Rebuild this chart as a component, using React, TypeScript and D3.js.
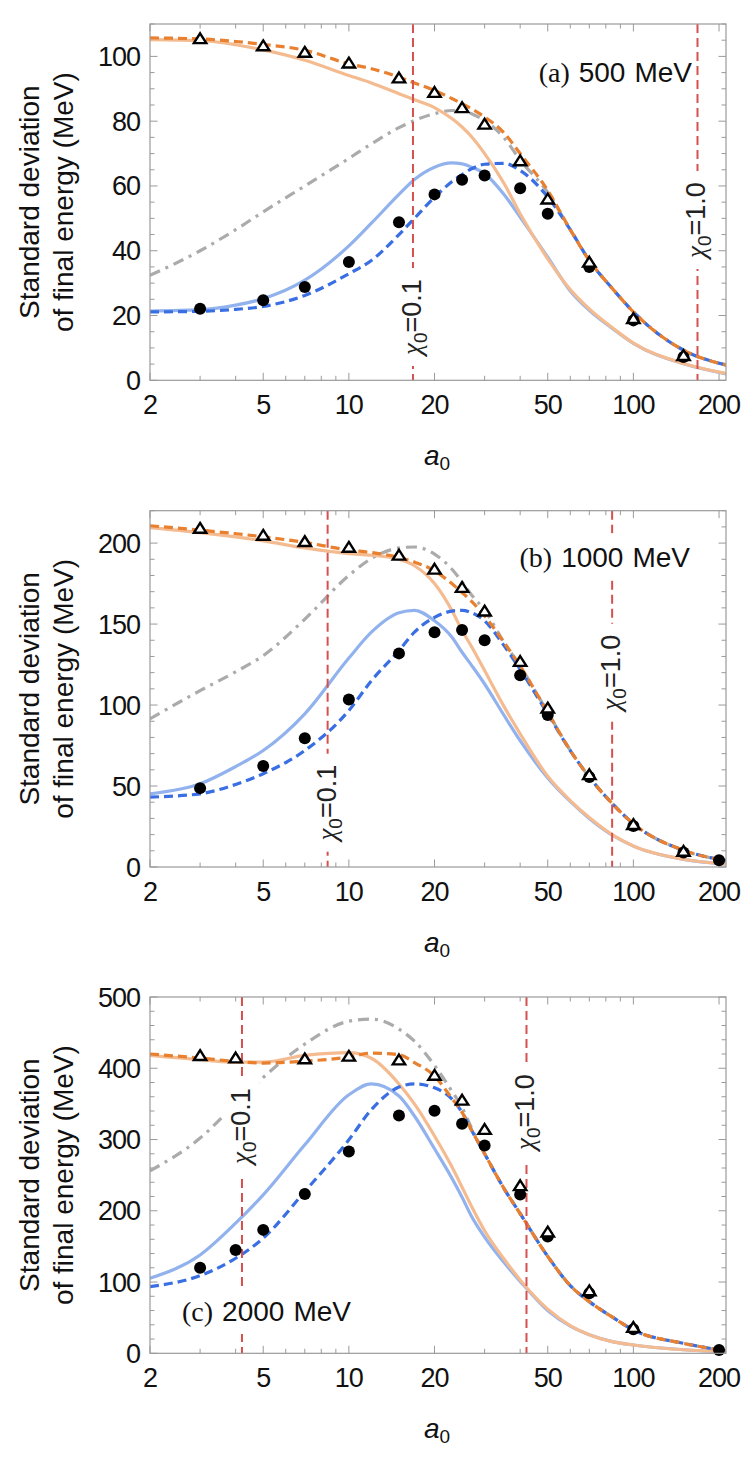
import React from 'react';
import * as d3 from 'd3';

// a0 grid shared by all model curves
const curveA0 = [2, 3, 4, 5, 7, 10, 12, 15, 17, 20, 23, 25, 27, 30, 35, 40, 50, 60, 70, 85, 100, 150, 212];

// (a) 500 MeV
const aOrangeSolid = [105.2, 104.9, 103.6, 102, 98.8, 94.1, 91.8, 88.5, 86.6, 84.2, 80.8, 78.2, 75.2, 70, 61, 51.4, 37.5, 28, 22, 16, 11.5, 5.2, 2.1];
const aBlueSolid = [21.4, 21.8, 23.2, 25.2, 30.9, 41.5, 48.5, 57.4, 62, 65.8, 67.1, 66.8, 65.8, 63.8, 57.5, 50.4, 38, 27.6, 21.6, 15.8, 11.4, 5.1, 2];
const aBlueDashed = [21.1, 21.3, 21.9, 22.8, 26.2, 32.9, 37, 45, 50, 56.5, 61.3, 63.5, 65.3, 66.7, 67, 64.8, 56.6, 46.5, 37, 28, 21.1, 9.3, 4.7];
const aOrangeDashed = [105.7, 105.4, 104.6, 103.7, 101.9, 97.7, 96.2, 93.6, 91.8, 89.5, 87, 85.4, 83.8, 81.3, 76.5, 70, 58.6, 46.5, 37, 28, 21.1, 9.3, 4.7];
const aGray = [32.4, 40, 46.5, 52, 60, 68.5, 73, 78, 80.2, 82.3, 83.3, 83.3, 82.3, 80.2, 75, 68, 58, 46.5, 37, 28, 21.1, 9.3, 4.7];
const aTriX = [3, 5, 7, 10, 15, 20, 25, 30, 40, 50, 70, 100, 150];
const aTriY = [105.2, 103, 101, 97.7, 93.1, 88.6, 83.9, 78.8, 67.5, 55.7, 36.2, 18.8, 7.4];
const aDotX = [3, 5, 7, 10, 15, 20, 25, 30, 40, 50, 70, 100, 150];
const aDotY = [22.1, 24.7, 28.8, 36.5, 48.8, 57.4, 61.9, 63.2, 59.3, 51.4, 35, 18.5, 7.2];

// (b) 1000 MeV
const bOrangeSolid = [209.6, 206.5, 203.8, 201.4, 197, 193.5, 192.5, 190, 186, 175, 158.5, 146, 136, 121.3, 99.5, 82.2, 56, 41, 30.5, 19.5, 13, 4.8, 1.8];
const bBlueSolid = [45.2, 51.4, 62, 71.9, 94.6, 129, 145, 157, 158.5, 152, 142, 132.6, 124.5, 113, 94, 78, 55, 40.5, 30, 19.3, 12.9, 4.7, 1.8];
const bBlueDashed = [43.2, 45.2, 51, 57.6, 71.9, 96.6, 115, 133.6, 145, 154.1, 158, 158.5, 157, 152, 137, 122, 94.5, 71.9, 55.5, 38.5, 26.7, 10.3, 4];
const bOrangeDashed = [210.7, 208, 205.8, 203.9, 200.4, 195.7, 194.2, 191.1, 188.3, 182.9, 175, 169.5, 164, 155, 139, 124, 95.5, 72, 55.5, 38.5, 26.7, 10.3, 4];
const bGray = [91.5, 108.9, 120.5, 130.5, 153, 180, 190.5, 197, 197.6, 193.2, 184, 176, 168, 158.5, 139, 124, 95.5, 72, 55.5, 38.5, 26.7, 10.3, 4];
const bTriX = [3, 5, 7, 10, 15, 20, 25, 30, 40, 50, 70, 100, 150];
const bTriY = [208.6, 204.3, 200.4, 196.9, 192, 183.4, 172.1, 157.5, 126.4, 97.6, 56.5, 25.7, 9.2];
const bDotX = [3, 5, 7, 10, 15, 20, 25, 30, 40, 50, 70, 100, 150, 200];
const bDotY = [48.7, 62.3, 79.5, 103.4, 131.9, 144.9, 146.4, 140, 118.4, 93.8, 55.5, 25.3, 8.9, 4.1];

// (c) 2000 MeV
const cOrangeSolid = [418, 412, 408.7, 408.7, 418, 422, 414, 378, 350, 305, 262, 233, 206, 172, 133, 103, 62, 39, 26, 16, 11.7, 5, 2];
const cBlueSolid = [105.3, 138, 182.6, 222.3, 292.6, 362.8, 378, 361, 333, 287, 246, 219, 192, 163, 128, 101, 60, 38, 26, 16, 11.6, 5, 2];
const cBlueDashed = [93.6, 109, 133.4, 161.5, 227, 299.6, 342, 373.6, 378, 372.5, 357, 338, 313, 280, 232, 196, 136, 95, 72.5, 50, 32.7, 14, 3.3];
const cOrangeDashed = [420, 414.3, 409.6, 407.3, 410, 415.7, 421.3, 419, 408, 389, 358, 338, 313, 280, 232, 196, 136, 95, 72.5, 50, 32.7, 14, 3.3];
const cGray = [256, 302, 350, 387, 434, 466, 469, 455, 438, 404, 368, 345, 316, 280, 232, 196, 136, 95, 72.5, 50, 32.7, 14, 3.3];
const cTriX = [3, 4, 7, 10, 15, 20, 25, 30, 40, 50, 70, 100];
const cTriY = [416.6, 413.3, 412, 415.7, 410.5, 389, 354, 313, 234, 169, 86.5, 35.1];
const cDotX = [3, 4, 5, 7, 10, 15, 20, 25, 30, 40, 50, 70, 100, 200];
const cDotY = [120.2, 145, 173.2, 223.7, 283.2, 333.7, 340.5, 322, 291.6, 222.8, 163.8, 84.3, 33.7, 4.6];

const xMajor = [2, 5, 10, 20, 50, 100, 200];
const xMinor = [3, 4, 6, 7, 8, 9, 30, 40, 60, 70, 80, 90];

const SANS = 'Liberation Sans, Arial, sans-serif';
const SERIF = 'Liberation Serif, Times New Roman, serif';

const LEFT = 150;
const RIGHT = 726;
const PH = 356.3;
const x = d3.scaleLog().domain([2, 211.6]).range([LEFT, RIGHT]);

const panels = [
  {
    key: 'a', tag: '(a)', energy: '500', top: 24, yMax: 110, major: 20, minor: 5,
    orangeSolid: aOrangeSolid, blueSolid: aBlueSolid, blueDashed: aBlueDashed, orangeDashed: aOrangeDashed, gray: aGray,
    triX: aTriX, triY: aTriY, dotX: aDotX, dotY: aDotY,
    chi: [16.8, 168], chiLabelY: [293, 196],
    label: { x: 692, anchor: 'end', base: 58, box: [531, 695] },
  },
  {
    key: 'b', tag: '(b)', energy: '1000', top: 510.7, yMax: 220, major: 50, minor: 10,
    orangeSolid: bOrangeSolid, blueSolid: bBlueSolid, blueDashed: bBlueDashed, orangeDashed: bOrangeDashed, gray: bGray,
    triX: bTriX, triY: bTriY, dotX: bDotX, dotY: bDotY,
    chi: [8.42, 84.2], chiLabelY: [292, 162],
    label: { x: 690, anchor: 'end', base: 56.5, box: [512, 696] },
  },
  {
    key: 'c', tag: '(c)', energy: '2000', top: 997, yMax: 500, major: 100, minor: 20,
    orangeSolid: cOrangeSolid, blueSolid: cBlueSolid, blueDashed: cBlueDashed, orangeDashed: cOrangeDashed, gray: cGray,
    triX: cTriX, triY: cTriY, dotX: cDotX, dotY: cDotY,
    chi: [4.21, 42.1], chiLabelY: [129, 115],
    label: { x: 182, anchor: 'start', base: 324, box: [176, 356] },
  },
];

const FRAME = '#9a9a9a';

const Panel: React.FC<{ p: typeof panels[number] }> = ({ p }) => {
  const bottom = p.top + PH;
  const y = d3.scaleLinear().domain([0, p.yMax]).range([bottom, p.top]);
  const line = d3.line<[number, number]>()
    .x(d => x(d[0]))
    .y(d => y(d[1]))
    .curve(d3.curveMonotoneX);
  const path = (vals: number[]) => line(curveA0.map((a, i) => [a, vals[i]] as [number, number])) || '';

  const yMajor = d3.range(0, p.yMax + 1e-6, p.major);
  const yMinor = d3.range(0, p.yMax + 1e-6, p.minor).filter(v => Math.abs(v / p.major - Math.round(v / p.major)) > 1e-6);
  const clipId = `clip-${p.key}`;

  return (
    <g>
      <defs>
        <clipPath id={clipId}>
          <rect x={LEFT} y={p.top} width={RIGHT - LEFT} height={PH} />
        </clipPath>
      </defs>

      {/* ticks */}
      <g stroke={FRAME} strokeWidth={1}>
        {xMajor.map(v => (
          <g key={'xM' + v}>
            <line x1={x(v)} x2={x(v)} y1={bottom} y2={bottom - 7.5} />
            <line x1={x(v)} x2={x(v)} y1={p.top} y2={p.top + 7.5} />
          </g>
        ))}
        {xMinor.map(v => (
          <g key={'xm' + v}>
            <line x1={x(v)} x2={x(v)} y1={bottom} y2={bottom - 4.5} />
            <line x1={x(v)} x2={x(v)} y1={p.top} y2={p.top + 4.5} />
          </g>
        ))}
        {yMajor.map(v => (
          <g key={'yM' + v}>
            <line x1={LEFT} x2={LEFT + 7.5} y1={y(v)} y2={y(v)} />
            <line x1={RIGHT} x2={RIGHT - 7.5} y1={y(v)} y2={y(v)} />
          </g>
        ))}
        {yMinor.map(v => (
          <g key={'ym' + v}>
            <line x1={LEFT} x2={LEFT + 4.5} y1={y(v)} y2={y(v)} />
            <line x1={RIGHT} x2={RIGHT - 4.5} y1={y(v)} y2={y(v)} />
          </g>
        ))}
      </g>

      {/* model curves */}
      <g clipPath={`url(#${clipId})`} fill="none" strokeWidth={3.2}>
        <path d={path(p.gray)} stroke="#ababab" strokeDasharray="11 6 3 6" />
        <path d={path(p.blueSolid)} stroke="#92b2ee" />
        <path d={path(p.orangeSolid)} stroke="#f5bb90" />
        <path d={path(p.blueDashed)} stroke="#3a6fe3" strokeDasharray="9 5" />
        <path d={path(p.orangeDashed)} stroke="#e8802f" strokeDasharray="9 5" />
      </g>

      {/* chi0 lines */}
      {p.chi.map((c, i) => (
        <line key={'chi' + i} x1={x(c)} x2={x(c)} y1={p.top} y2={bottom}
          stroke="#d6504e" strokeWidth={2} strokeDasharray="9 5" />
      ))}
      {p.chi.map((c, i) => (
        <g key={'chil' + i} transform={`translate(${x(c) + 8},${p.top + p.chiLabelY[i]}) rotate(-90)`}>
          <rect x={-49} y={-27} width={98} height={36} fill="#fff" />
          <text textAnchor="middle" fontFamily={SANS} fontSize={27} fill="#222">
            <tspan fontFamily={SERIF} fontStyle="italic">χ</tspan>
            <tspan fontSize={19} dy={6}>0</tspan>
            <tspan dy={-6}>{i === 0 ? '=0.1' : '=1.0'}</tspan>
          </text>
        </g>
      ))}

      {/* panel label */}
      <rect x={p.label.box[0]} y={p.top + p.label.base - 34} width={p.label.box[1] - p.label.box[0]} height={47} fill="#fff" />
      <text x={p.label.x} y={p.top + p.label.base} textAnchor={p.label.anchor as any} fontFamily={SANS} fontSize={28} fill="#111">
        <tspan fontFamily={SERIF}>{p.tag}</tspan>
        <tspan dx={9}>{p.energy}</tspan>
        <tspan dx={9}>MeV</tspan>
      </text>

      {/* simulation markers */}
      {p.dotX.map((a, i) => (
        <circle key={'d' + i} cx={x(a)} cy={y(p.dotY[i])} r={6} fill="#000" />
      ))}
      {p.triX.map((a, i) => (
        <path key={'t' + i} transform={`translate(${x(a)},${y(p.triY[i])})`}
          d="M0,-6.2L6.2,3.6L-6.2,3.6Z" fill="#fff" stroke="#000" strokeWidth={2.4} strokeLinejoin="miter" />
      ))}

      {/* frame */}
      <rect x={LEFT} y={p.top} width={RIGHT - LEFT} height={PH} fill="none" stroke={FRAME} strokeWidth={1.2} />

      {/* tick labels */}
      <g fontFamily={SANS} fontSize={27} fill="#111" letterSpacing={-1}>
        {xMajor.map(v => (
          <text key={'xl' + v} x={x(v)} y={bottom + 34} textAnchor="middle">{v}</text>
        ))}
        {yMajor.map(v => (
          <text key={'yl' + v} x={LEFT - 10} y={y(v) + 9.5} textAnchor="end">{v}</text>
        ))}
      </g>

      {/* axis titles */}
      <text x={437} y={bottom + 85} textAnchor="middle" fontFamily={SANS} fontSize={28} fill="#111">
        <tspan fontStyle="italic">a</tspan>
        <tspan fontSize={19} dy={5}>0</tspan>
      </text>
      <g fontFamily={SANS} fontSize={28} fill="#111" textAnchor="middle">
        <text transform={`translate(39,${p.top + PH / 2}) rotate(-90)`}>Standard deviation</text>
        <text transform={`translate(73,${p.top + PH / 2}) rotate(-90)`}>of final energy (MeV)</text>
      </g>
    </g>
  );
};

const App: React.FC = () => (
  <svg width={747} height={1465} viewBox="0 0 747 1465"
    style={{ position: 'absolute', left: 0, top: 0, background: '#fff' }}>
    <rect width={747} height={1465} fill="#fff" />
    {panels.map(p => <Panel key={p.key} p={p} />)}
  </svg>
);

export default App;
